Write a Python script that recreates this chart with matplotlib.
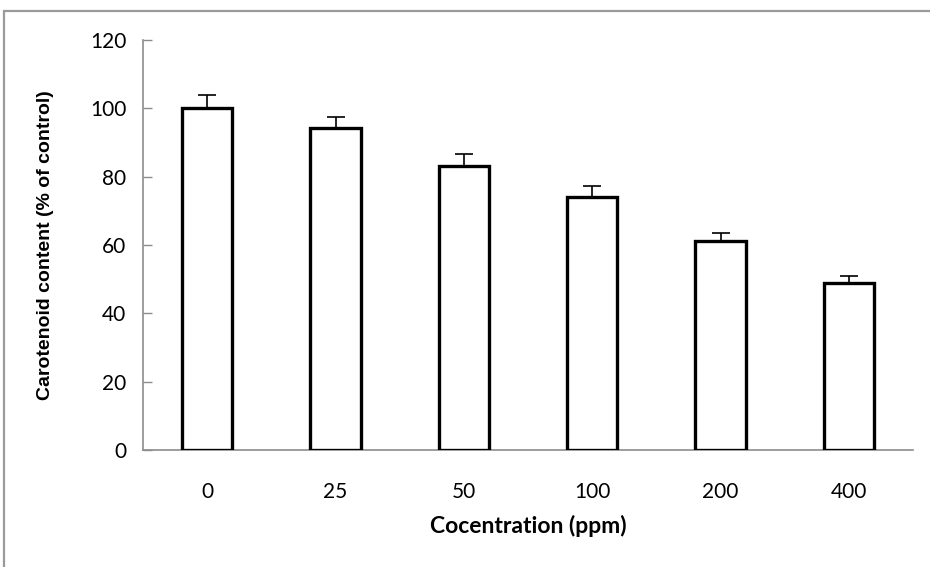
import matplotlib
matplotlib.use("Agg")
import matplotlib.pyplot as plt
from matplotlib.patches import Rectangle

concentrations = ["0", "25", "50", "100", "200", "400"]
carotenoid = [100.0, 94.3, 83.0, 74.0, 61.3, 49.0]
errors = [4.0, 3.3, 3.6, 3.3, 2.3, 1.8]

tick_font = ["Lato", "DejaVu Sans"]

fig = plt.figure(figsize=(9.3, 5.67), dpi=100)
fig.patches.append(Rectangle((4 / 930, -0.1), 1.2, (567 - 11) / 567 + 0.1,
                             transform=fig.transFigure, fill=False,
                             edgecolor="#9a9a9a", linewidth=1.6))
ax = fig.add_axes([143 / 930, 1 - 450 / 567, 770 / 930, 410 / 567])

x = range(len(concentrations))
ax.bar(x, carotenoid, width=0.39, color="white", edgecolor="black", linewidth=2.4, zorder=3)
ax.errorbar(x, carotenoid, yerr=[[0] * len(errors), errors], fmt="none",
            ecolor="black", elinewidth=1.2, capsize=6.5, capthick=1.2, zorder=4)

ax.set_xlim(-0.5, 5.5)
ax.set_ylim(0, 120)
ax.set_yticks(range(0, 121, 20))
ax.set_xticks(list(x), concentrations)
for side in ("top", "right"):
    ax.spines[side].set_visible(False)
for side in ("left", "bottom"):
    ax.spines[side].set_color("#8c8c8c")
    ax.spines[side].set_linewidth(1.2)
ax.tick_params(axis="y", direction="in", length=6.5, width=1.0, color="#8c8c8c", pad=12)
ax.tick_params(axis="x", length=0, pad=23)
for label in ax.get_xticklabels() + ax.get_yticklabels():
    label.set_fontfamily(tick_font)
    label.set_fontsize(15)

ax.set_xlabel("Cocentration (ppm)", fontsize=16.5, fontweight="bold", family=tick_font, labelpad=9)
ax.set_ylabel("Carotenoid content (% of control)", fontsize=14, fontweight="bold",
              family="Liberation Sans", labelpad=26)

fig.savefig("out.png", dpi=100)
